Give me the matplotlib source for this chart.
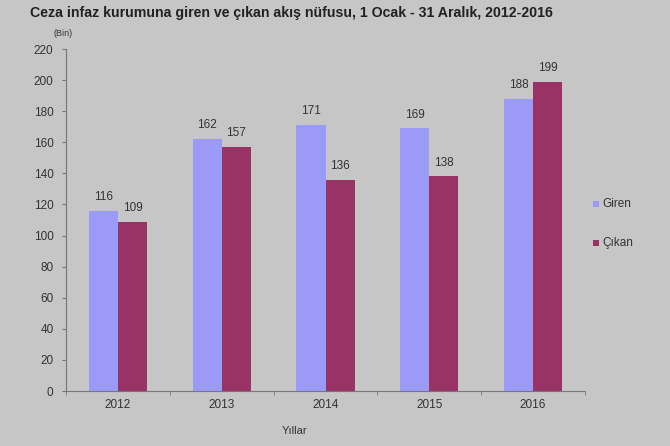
import numpy as np
import matplotlib.pyplot as plt
from matplotlib.patches import Rectangle

years = ["2012", "2013", "2014", "2015", "2016"]
giren = [116, 162, 171, 169, 188]
cikan = [109, 157, 136, 138, 199]

BG = "#c6c6c6"
C_GIREN = "#9c9af8"
C_CIKAN = "#993366"
TXT = "#333333"

plt.rcParams["font.family"] = ["Liberation Sans", "DejaVu Sans"]

W, H = 670, 446
fig = plt.figure(figsize=(W / 100, H / 100), dpi=100, facecolor=BG)
# axes box in pixels: x 66..585, y 49..391
ax = fig.add_axes([66 / W, 1 - 391 / H, (585 - 66) / W, (391 - 49) / H])
ax.set_facecolor(BG)

x = np.arange(len(years))
w = 0.28
b1 = ax.bar(x - w / 2, giren, w, color=C_GIREN)
b2 = ax.bar(x + w / 2, cikan, w, color=C_CIKAN)

for bars, vals in ((b1, giren), (b2, cikan)):
    for r, v in zip(bars, vals):
        ax.text(r.get_x() + r.get_width() / 2, v + 5, str(v), ha="center", va="bottom",
                fontsize=8.5, color=TXT)

ax.set_xlim(-0.5, len(years) - 0.5)
ax.set_ylim(0, 220)
ax.set_yticks(range(0, 221, 20))
ax.set_xticks(x)
ax.set_xticklabels(years)
ax.set_xticks(np.arange(-0.5, len(years), 1), minor=True)
ax.tick_params(axis="x", which="major", length=0, pad=6, labelsize=8.5, labelcolor=TXT)
ax.tick_params(axis="x", which="minor", length=3, direction="out", color="#777777")
ax.tick_params(axis="y", length=3, direction="out", color="#777777", labelsize=8.5,
               labelcolor=TXT, pad=6)

for s in ("top", "right"):
    ax.spines[s].set_visible(False)
for s in ("left", "bottom"):
    ax.spines[s].set_color("#777777")
    ax.spines[s].set_linewidth(0.8)

fig.text(30 / W, 1 - 13 / H, "Ceza infaz kurumuna giren ve çıkan akış nüfusu, 1 Ocak - 31 Aralık, 2012-2016",
         fontsize=10.2, fontweight="bold", color="#222222", va="center", ha="left")
fig.text(53 / W, 1 - 33 / H, "(Bin)", fontsize=6.5, color=TXT, va="center", ha="left")
fig.text(294 / W, 1 - 431 / H, "Yıllar", fontsize=8, color=TXT, va="center", ha="center")

# legend
for label, col, ypx in (("Giren", C_GIREN, 204), ("Çıkan", C_CIKAN, 243)):
    fig.patches.append(Rectangle((593 / W, 1 - (ypx + 3) / H), 6 / W, 6 / H,
                                 transform=fig.transFigure, facecolor=col, edgecolor="none"))
    fig.text(602 / W, 1 - ypx / H, label, fontsize=8.5, color=TXT, va="center", ha="left")

fig.savefig("out.png", dpi=100, facecolor=BG)
